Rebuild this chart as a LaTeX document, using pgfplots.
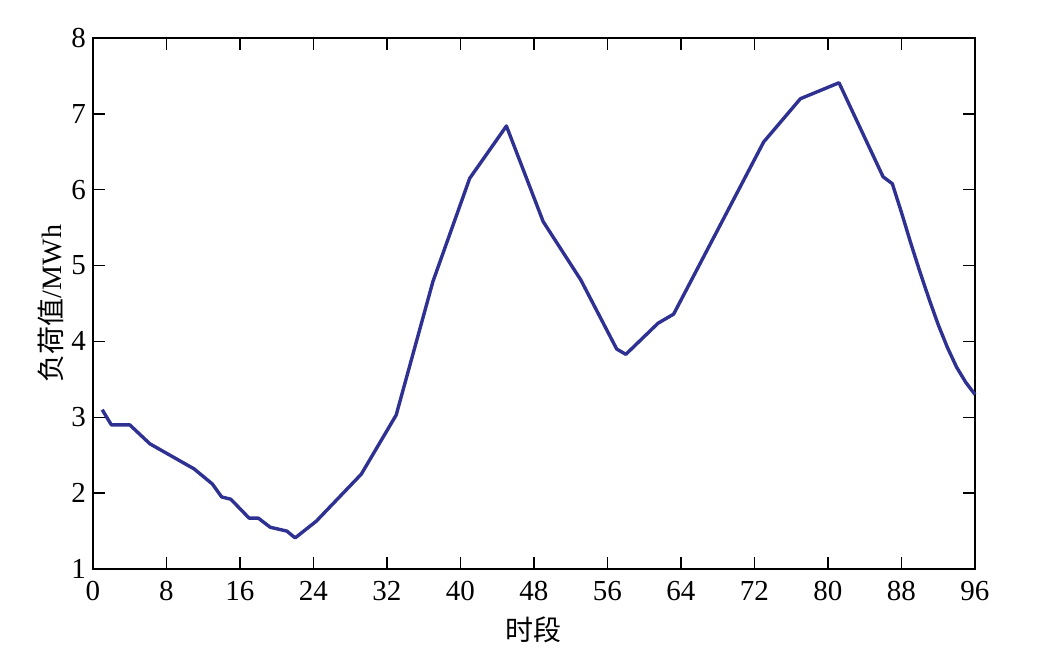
\documentclass[border=0pt]{standalone}
\usepackage{fontspec}
\setmainfont{Liberation Serif}
\newfontfamily\cjk{Noto Sans CJK SC}
\usepackage{pgfplots}
\pgfplotsset{compat=1.18}
\definecolor{lineblue}{RGB}{46,49,146}
\begin{document}
\begin{tikzpicture}
\useasboundingbox (-46.5pt,-46pt) rectangle (473.5pt,284.5pt);
\begin{axis}[
  at={(0,0)}, anchor=south west,
  scale only axis,
  width=441pt, height=265.5pt,
  xmin=0, xmax=96, ymin=1, ymax=8,
  xtick={0,8,...,96}, ytick={1,2,...,8},
  tick align=inside,
  major tick length=6pt,
  axis line style={line width=0.75pt},
  every tick/.style={line width=0.75pt, black},
  /pgf/number format/assume math mode=true,
  tick label style={font=\fontsize{14.5}{17}\selectfont},
  label style={font=\fontsize{14}{17}\selectfont},
  xlabel={{\cjk 时段}},
  ylabel={{\cjk 负荷值}/MWh},
  xlabel style={yshift=-1pt},
  ylabel style={yshift=-3pt},
  xticklabel style={yshift=-2.5pt},
  clip=false,
]
\addplot[color=lineblue, line width=1.7pt, line join=round] coordinates {
(1,3.10) (2,2.90) (4,2.90) (6.2,2.65) (11,2.32) (13,2.12) (14,1.95) (15,1.92)
(17,1.67) (18,1.67) (19.3,1.55) (21.1,1.50) (22,1.41) (24.3,1.63) (29.2,2.25)
(33,3.03) (37,4.79) (41,6.15) (45,6.84) (49,5.58) (53.1,4.81) (57,3.90) (58,3.83)
(61.5,4.24) (63.2,4.36) (73,6.63) (77,7.20) (81.2,7.41) (86,6.17) (87,6.08)
(88,5.70) (89,5.30) (90,4.92) (91,4.56) (92,4.22) (93,3.92) (94,3.66) (95,3.46) (96,3.30)
};
\end{axis}
\end{tikzpicture}
\end{document}
